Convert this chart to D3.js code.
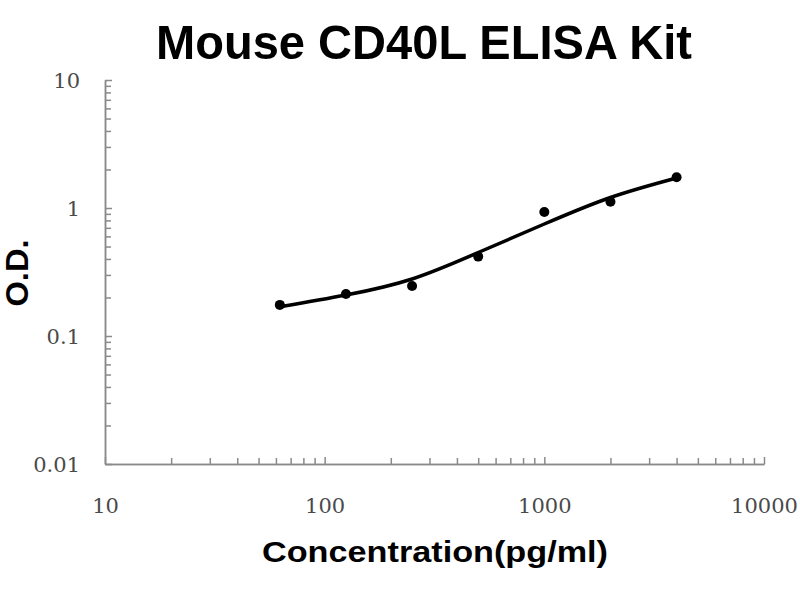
<!DOCTYPE html>
<html>
<head>
<meta charset="utf-8">
<script src="https://cdn.jsdelivr.net/npm/d3@7"></script>
<style>
  body { margin: 0; background: #fff; }
  svg { display: block; }
</style>
</head>
<body>
<div id="chart"></div>
<script>
// Données
const concentrations = [62.5, 125, 250, 500, 1000, 2000, 4000];
const odValues = [0.175, 0.213, 0.246, 0.417, 0.93, 1.12, 1.74];
const fitValues = [0.169, 0.209, 0.279, 0.449, 0.750, 1.208, 1.716];
const xMajorTicks = [10, 100, 1000, 10000];
const yMajorTicks = [0.01, 0.1, 1, 10];

const width = 800, height = 600;

const svg = d3.select("#chart")
    .append("svg")
    .attr("width", width)
    .attr("height", height);

const x = d3.scaleLog().domain([10, 10000]).range([105, 764]);
const y = d3.scaleLog().domain([0.01, 10]).range([464, 80]);

const axisColor = "#8a8a8a";
const labelFont = "DejaVu Serif, serif";

// Axe X : petites graduations
const xMinor = svg.append("g")
    .attr("transform", `translate(0,${y(0.01)})`)
    .call(d3.axisBottom(x)
        .tickValues(x.ticks().filter(d => xMajorTicks.indexOf(d) < 0))
        .tickSize(-6)
        .tickSizeOuter(0)
        .tickFormat(""));

// Axe X : graduations principales + étiquettes
const xMajor = svg.append("g")
    .attr("transform", `translate(0,${y(0.01)})`)
    .call(d3.axisBottom(x)
        .tickValues(xMajorTicks)
        .tickSize(-7)
        .tickSizeOuter(0)
        .tickPadding(34)
        .tickFormat(d3.format("d")));

// Axe Y
const yMinor = svg.append("g")
    .attr("transform", `translate(${x(10)},0)`)
    .call(d3.axisLeft(y)
        .tickValues(y.ticks().filter(d => yMajorTicks.indexOf(d) < 0))
        .tickSize(-6)
        .tickSizeOuter(0)
        .tickFormat(""));

const yMajor = svg.append("g")
    .attr("transform", `translate(${x(10)},0)`)
    .call(d3.axisLeft(y)
        .tickValues(yMajorTicks)
        .tickSize(-7)
        .tickSizeOuter(0)
        .tickPadding(25)
        .tickFormat(d => d >= 1 ? d3.format("d")(d) : String(d)));

[xMinor, xMajor, yMinor, yMajor].forEach(g => {
    g.selectAll("path, line")
        .attr("stroke", axisColor)
        .attr("stroke-width", 1.5);
    g.selectAll("text")
        .attr("fill", "#4a4a4a")
        .attr("font-family", labelFont)
        .attr("font-size", "21px");
});
yMajor.selectAll("text").attr("dy", "0.36em");

// Courbe ajustée
const line = d3.line()
    .x((d, i) => x(concentrations[i]))
    .y(d => y(d))
    .curve(d3.curveNatural);

svg.append("path")
    .attr("d", line(fitValues))
    .attr("fill", "none")
    .attr("stroke", "#000")
    .attr("stroke-width", 3.5)
    .attr("stroke-linecap", "round");

// Points mesurés
svg.append("g")
    .selectAll("circle")
    .data(odValues)
    .enter()
    .append("circle")
    .attr("cx", (d, i) => x(concentrations[i]))
    .attr("cy", d => y(d))
    .attr("r", 5)
    .attr("fill", "#000");

// Titres
svg.append("text")
    .attr("x", 424)
    .attr("y", 59)
    .attr("text-anchor", "middle")
    .attr("font-family", "Liberation Sans, Arial, sans-serif")
    .attr("font-weight", "bold")
    .attr("font-size", "49px")
    .attr("textLength", 536)
    .attr("lengthAdjust", "spacingAndGlyphs")
    .attr("fill", "#000")
    .text("Mouse CD40L ELISA Kit");

svg.append("text")
    .attr("x", 435)
    .attr("y", 562)
    .attr("text-anchor", "middle")
    .attr("font-family", "Liberation Sans, Arial, sans-serif")
    .attr("font-weight", "bold")
    .attr("font-size", "29px")
    .attr("textLength", 346)
    .attr("lengthAdjust", "spacingAndGlyphs")
    .attr("fill", "#000")
    .text("Concentration(pg/ml)");

svg.append("text")
    .attr("transform", "translate(28,273) rotate(-90)")
    .attr("text-anchor", "middle")
    .attr("font-family", "Liberation Sans, Arial, sans-serif")
    .attr("font-weight", "bold")
    .attr("font-size", "31px")
    .attr("textLength", 67)
    .attr("lengthAdjust", "spacingAndGlyphs")
    .attr("fill", "#000")
    .text("O.D.");
</script>
</body>
</html>
